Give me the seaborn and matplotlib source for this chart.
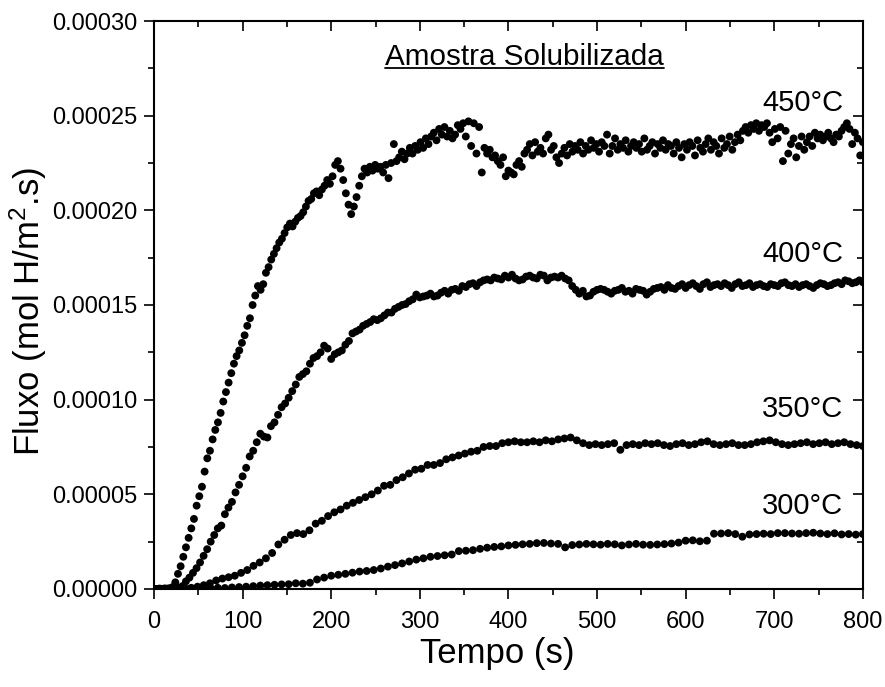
import numpy as np
import pandas as pd
import matplotlib
matplotlib.use("Agg")
import matplotlib.pyplot as plt
from matplotlib.ticker import MultipleLocator, FormatStrFormatter
import seaborn as sns

# ---- data (flux in units of 1e-5 mol H/m2.s), evenly sampled over 0-800 s ----
UNIT = 1e-5
T_END = 800

v300 = [0.0, 0.0, 0.0, 0.0, 0.02, 0.0, 0.03, 0.05, 0.04, 0.06,
        0.05, 0.08, 0.1, 0.12, 0.15, 0.18, 0.2, 0.22, 0.24, 0.25,
        0.3, 0.28, 0.33, 0.5, 0.6, 0.7, 0.75, 0.8, 0.86, 0.92,
        0.95, 1.0, 1.08, 1.18, 1.26, 1.35, 1.45, 1.55, 1.62, 1.7,
        1.74, 1.78, 1.82, 2.0, 2.02, 2.05, 2.12, 2.18, 2.22, 2.25,
        2.3, 2.33, 2.36, 2.38, 2.42, 2.43, 2.4, 2.38, 2.2, 2.32,
        2.35, 2.38, 2.36, 2.34, 2.38, 2.36, 2.3, 2.35, 2.38, 2.34,
        2.33, 2.35, 2.37, 2.4, 2.45, 2.55, 2.57, 2.52, 2.55, 2.92,
        2.93, 2.95, 2.9, 2.76, 2.88, 2.9, 2.92, 2.9, 2.95, 2.95,
        2.93, 2.92, 2.95, 2.97, 2.93, 2.9, 2.94, 2.88, 2.9, 2.87,
        2.9]

v350 = [0.0, 0.0, 0.01, 0.0, 0.02, 0.03, 0.06, 0.12, 0.2, 0.3,
        0.45, 0.55, 0.62, 0.7, 0.85, 1.0, 1.22, 1.4, 1.62, 1.9,
        2.35, 2.6, 2.85, 2.95, 2.9, 3.1, 3.45, 3.6, 3.85, 4.05,
        4.2, 4.4, 4.55, 4.7, 4.85, 5.0, 5.2, 5.45, 5.5, 5.75,
        5.9, 6.1, 6.3, 6.35, 6.55, 6.55, 6.65, 6.85, 6.95, 7.05,
        7.15, 7.25, 7.3, 7.5, 7.55, 7.55, 7.7, 7.75, 7.8, 7.75,
        7.75, 7.8, 7.75, 7.85, 7.8, 7.9, 7.95, 8.0, 7.85, 7.7,
        7.6, 7.65, 7.6, 7.65, 7.7, 7.35, 7.6, 7.65, 7.6, 7.7,
        7.65, 7.7, 7.6, 7.55, 7.65, 7.7, 7.6, 7.65, 7.75, 7.8,
        7.65, 7.6, 7.65, 7.7, 7.6, 7.6, 7.65, 7.75, 7.8, 7.85,
        7.75, 7.65, 7.6, 7.65, 7.7, 7.75, 7.65, 7.7, 7.75, 7.65,
        7.7, 7.75, 7.65, 7.6, 7.55]

v400 = [0.0, 0.0, 0.01, 0.0, 0.02, 0.0, 0.03, 0.05, 0.15, 0.4,
        0.6, 0.85, 1.1, 1.4, 1.75, 2.1, 2.5, 2.85, 3.2, 3.35,
        3.95, 4.3, 4.6, 5.1, 5.5, 5.95, 6.4, 7.0, 7.3, 7.75,
        8.2, 8.05, 8.0, 8.6, 8.8, 9.2, 9.6, 9.8, 10.1, 10.45,
        10.8, 11.2, 11.35, 11.5, 11.9, 12.2, 12.3, 12.5, 12.85, 12.7,
        12.15, 12.4, 12.5, 12.6, 12.9, 13.1, 13.5, 13.6, 13.7, 13.9,
        14.0, 14.1, 14.25, 14.2, 14.3, 14.45, 14.6, 14.6, 14.8, 14.9,
        15.0, 15.05, 15.2, 15.3, 15.55, 15.4, 15.45, 15.5, 15.6, 15.45,
        15.5, 15.65, 15.75, 15.6, 15.8, 15.85, 15.75, 16.0, 15.95, 16.1,
        16.15, 16.0, 16.2, 16.3, 16.35, 16.3, 16.45, 16.4, 16.35, 16.55,
        16.45, 16.6, 16.4, 16.3, 16.35, 16.5, 16.55, 16.45, 16.4, 16.6,
        16.55, 16.3, 16.45, 16.5, 16.45, 16.55, 16.4, 16.3, 16.0, 15.8,
        15.6, 15.75, 15.45, 15.5, 15.7, 15.8, 15.85, 15.8, 15.7, 15.6,
        15.75, 15.8, 15.9, 15.7, 15.75, 15.6, 15.85, 15.8, 15.75, 15.55,
        15.7, 15.85, 15.9, 15.95, 15.8, 16.05, 15.9, 15.85, 16.0, 16.1,
        15.9, 16.05, 16.15, 16.0, 15.85, 16.1, 16.2, 15.95, 16.05, 16.1,
        16.0, 16.15, 16.05, 15.9, 16.1, 16.2, 16.0, 16.05, 16.15, 15.95,
        16.05, 16.1, 16.0, 15.95, 16.1, 16.05, 16.0, 16.15, 16.2, 16.05,
        16.0, 16.1, 15.95, 16.05, 16.1, 16.0, 15.9, 16.05, 16.15, 16.1,
        16.0, 16.05, 16.15, 16.2, 16.1, 16.3, 16.25, 16.15, 16.2, 16.3,
        16.2]

v450 = [0.0, 0.0, 0.02, 0.0, 0.03, 0.01, 0.04, 0.1, 0.35, 0.8,
        1.2, 1.7, 2.2, 2.7, 3.2, 3.7, 4.4, 4.9, 5.4, 6.2,
        6.9, 7.3, 7.9, 8.4, 8.8, 9.3, 9.9, 10.4, 10.9, 11.4,
        11.9, 12.3, 12.6, 13.0, 13.4, 13.9, 14.3, 15.0, 15.5, 16.0,
        15.8, 16.1, 16.7, 17.0, 17.4, 17.7, 18.0, 18.3, 18.5, 18.8,
        19.1, 19.3, 19.15, 19.4, 19.6, 19.7, 19.9, 20.2, 20.5, 20.6,
        20.9, 21.0, 20.8, 21.1, 21.3, 21.6, 21.4, 21.8, 22.4, 22.6,
        22.2, 21.6, 20.9, 20.3, 19.8, 20.2, 20.7, 21.3, 21.8, 22.2,
        22.0, 22.3, 22.1, 22.4, 22.2, 22.3, 22.0, 22.4, 21.7, 22.5,
        23.5, 22.6, 22.8, 23.1, 22.7, 23.0, 23.3, 23.0, 23.4, 23.2,
        23.6, 23.3, 23.8, 23.5, 23.9, 24.1, 23.7, 24.3, 24.0, 24.4,
        23.9, 24.2, 23.8, 24.0, 24.5, 24.3, 24.6, 23.9, 24.7, 23.4,
        24.6, 23.0, 24.4, 22.0, 23.3, 23.0, 23.2, 22.8, 22.9, 22.6,
        22.4, 22.8, 21.8, 22.1, 22.0, 21.9, 22.4, 22.6, 22.3, 23.0,
        23.2, 23.5, 22.9, 23.6, 23.1, 23.3, 23.0, 23.8, 24.0, 23.2,
        23.4, 22.8, 22.5, 23.0, 23.3, 22.9, 23.5, 23.1, 23.4, 23.2,
        23.6, 23.0, 23.4, 23.2, 23.7, 23.3, 23.5, 23.1, 23.6, 23.4,
        24.0, 23.0, 23.4, 23.8, 23.2, 23.5, 23.3, 23.7, 23.1, 23.4,
        23.6, 23.3, 23.5, 23.1, 23.8, 23.2, 23.4, 23.6, 23.0, 23.5,
        23.3, 23.7, 23.2, 23.5, 23.4, 23.0, 23.6, 23.3, 22.8, 23.5,
        23.2, 23.6, 23.4, 22.9, 23.7, 23.3, 23.1, 23.5, 23.8, 23.2,
        23.6, 23.4, 23.0, 23.8, 23.3, 23.5, 23.9, 23.2, 23.6, 24.0,
        23.7, 24.2, 24.4, 24.1, 24.5, 24.3, 24.6, 24.2, 24.5, 24.4,
        24.6, 24.1, 23.6, 24.3, 23.8, 24.4, 22.6, 24.2, 23.0, 23.5,
        23.8, 22.8, 23.4, 23.9, 23.2, 23.6, 23.9, 23.4, 24.1, 23.8,
        24.0, 23.7, 23.9, 24.1, 23.8, 23.6, 24.0, 23.9, 24.2, 24.4,
        24.6, 24.3, 23.5, 24.1, 23.8, 22.9, 23.6]

series = {"300°C": v300, "350°C": v350, "400°C": v400, "450°C": v450}
labels = ["450°C", "400°C", "350°C", "300°C"]
title_text = "Amostra Solubilizada"
xticks = [0, 100, 200, 300, 400, 500, 600, 700, 800]

frames = []
for name, vals in series.items():
    t = np.linspace(0, T_END, len(vals))
    frames.append(pd.DataFrame({"Tempo": t, "Fluxo": np.array(vals) * UNIT, "serie": name}))
df = pd.concat(frames, ignore_index=True)

# ---- style ----
sns.set_style("ticks")
plt.rcParams["font.family"] = ["Liberation Sans", "DejaVu Sans"]
plt.rcParams["mathtext.default"] = "regular"
for key in ["text.color", "axes.labelcolor", "xtick.color", "ytick.color", "axes.edgecolor"]:
    plt.rcParams[key] = "black"

fig = plt.figure(figsize=(8.85, 6.87), dpi=100)
ax = fig.add_axes([0.174, 0.1427, 0.801, 0.8267])

sns.scatterplot(data=df, x="Tempo", y="Fluxo", hue="serie",
                palette={k: "black" for k in series}, s=32, linewidth=0,
                legend=False, ax=ax)

ax.set_xlim(0, 800)
ax.set_ylim(0, 0.0003)
ax.set_xticks(xticks)
ax.xaxis.set_minor_locator(MultipleLocator(50))
ax.yaxis.set_major_locator(MultipleLocator(0.00005))
ax.yaxis.set_minor_locator(MultipleLocator(0.000025))
ax.yaxis.set_major_formatter(FormatStrFormatter("%.5f"))

for sp in ax.spines.values():
    sp.set_visible(True)
    sp.set_linewidth(1.5)
    sp.set_color("black")

ax.tick_params(which="both", direction="out", colors="black", width=1.2,
               labelsize=17, top=False, right=False)
ax.tick_params(which="major", length=7.2)
ax.tick_params(which="minor", length=4)
ax.tick_params(axis="x", which="major", pad=9)
ax.tick_params(axis="y", which="major", pad=5)

# inward ticks on top and right
axt = ax.secondary_xaxis("top")
axt.set_xticks(xticks)
axt.xaxis.set_minor_locator(MultipleLocator(50))
axt.tick_params(which="both", direction="in", width=1.2, labeltop=False)
axt.tick_params(which="major", length=7.2)
axt.tick_params(which="minor", length=4)
axt.spines["top"].set_visible(False)
axr = ax.secondary_yaxis("right")
axr.yaxis.set_major_locator(MultipleLocator(0.00005))
axr.yaxis.set_minor_locator(MultipleLocator(0.000025))
axr.tick_params(which="both", direction="in", width=1.2, labelright=False)
axr.tick_params(which="major", length=7.2)
axr.tick_params(which="minor", length=4)
axr.spines["right"].set_visible(False)

ax.set_xlabel("Tempo (s)", fontsize=25)
ax.set_ylabel("Fluxo (mol H/m$^{2}$.s)", fontsize=25)
ax.xaxis.set_label_coords(0.484, -0.113)
ax.yaxis.set_label_coords(-0.178, 0.489)
ax.xaxis.label.set_va("center")
ax.yaxis.label.set_va("center")

# annotations
label_y = [0.0002495, 0.0001695, 0.0000875, 0.0000365]
for lab, yy in zip(labels, label_y):
    ax.text(778, yy, lab, fontsize=21, ha="right", va="bottom")

base_y = 0.9225
ax.text(0.523, base_y, title_text, transform=ax.transAxes,
        fontsize=21.3, ha="center", va="baseline")
fig.canvas.draw()
ttl = ax.texts[-1]
bb = ttl.get_window_extent().transformed(ax.transAxes.inverted())
ax.plot([bb.x0, bb.x1], [base_y - 0.006, base_y - 0.006], transform=ax.transAxes,
        color="black", lw=1.3, clip_on=False)

fig.savefig("out.png", dpi=100)
